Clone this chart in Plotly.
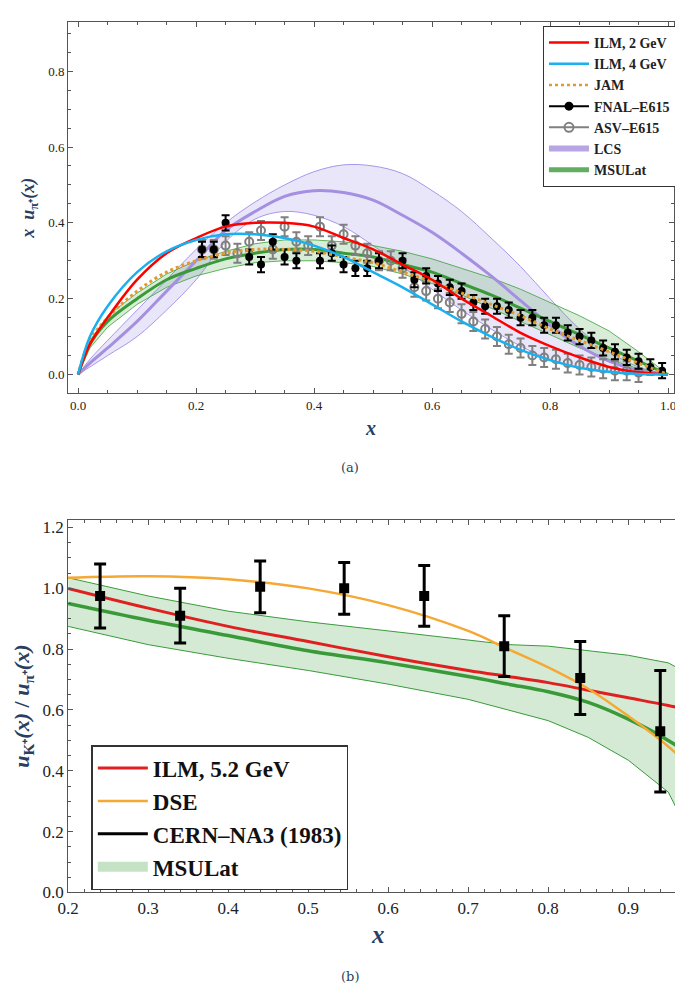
import plotly.graph_objects as go

# ---------- panel (a) data ----------
xc = [0.0, 0.02, 0.05, 0.1, 0.15, 0.2, 0.25, 0.3, 0.35, 0.4, 0.45, 0.5, 0.55, 0.6, 0.65, 0.7, 0.75, 0.8, 0.85, 0.9, 0.95, 1.0]
ilm2 = [0.0, 0.08, 0.15, 0.25, 0.32, 0.36, 0.39, 0.40, 0.40, 0.39, 0.36, 0.33, 0.29, 0.25, 0.20, 0.155, 0.11, 0.075, 0.045, 0.02, 0.006, 0.0]
ilm4 = [0.0, 0.10, 0.18, 0.27, 0.325, 0.355, 0.37, 0.37, 0.36, 0.34, 0.31, 0.27, 0.23, 0.185, 0.14, 0.10, 0.065, 0.038, 0.018, 0.007, 0.001, 0.0]
jam = [0.0, 0.09, 0.15, 0.22, 0.27, 0.30, 0.32, 0.33, 0.33, 0.325, 0.31, 0.295, 0.27, 0.245, 0.215, 0.185, 0.155, 0.12, 0.09, 0.06, 0.03, 0.0]
lcs_mid = [0.0, 0.03, 0.07, 0.14, 0.22, 0.30, 0.38, 0.43, 0.47, 0.485, 0.48, 0.46, 0.42, 0.375, 0.32, 0.26, 0.195, 0.13, 0.075, 0.035, 0.01, 0.0]
lcs_hi = [0.0, 0.04, 0.09, 0.17, 0.25, 0.33, 0.40, 0.455, 0.50, 0.535, 0.553, 0.55, 0.53, 0.485, 0.43, 0.36, 0.285, 0.20, 0.12, 0.06, 0.02, 0.0]
lcs_lo = [0.0, 0.02, 0.05, 0.10, 0.17, 0.25, 0.35, 0.41, 0.43, 0.42, 0.39, 0.34, 0.285, 0.225, 0.17, 0.12, 0.075, 0.04, 0.018, 0.006, 0.002, 0.0]
msu_mid = [0.0, 0.08, 0.14, 0.20, 0.25, 0.28, 0.305, 0.32, 0.33, 0.33, 0.32, 0.31, 0.29, 0.27, 0.24, 0.21, 0.175, 0.14, 0.105, 0.07, 0.035, 0.0]
msu_hi = [0.0, 0.09, 0.155, 0.215, 0.265, 0.30, 0.325, 0.345, 0.355, 0.355, 0.35, 0.34, 0.325, 0.305, 0.28, 0.255, 0.225, 0.19, 0.155, 0.115, 0.06, 0.0]
msu_lo = [0.0, 0.07, 0.125, 0.185, 0.23, 0.26, 0.28, 0.295, 0.30, 0.30, 0.295, 0.285, 0.265, 0.24, 0.21, 0.175, 0.14, 0.105, 0.07, 0.04, 0.015, 0.0]

fnal_x = [0.21, 0.23, 0.25, 0.29, 0.31, 0.33, 0.35, 0.37, 0.41, 0.43, 0.45, 0.47, 0.49, 0.51, 0.55, 0.57, 0.59, 0.61, 0.63, 0.65, 0.67, 0.69, 0.71, 0.73, 0.75, 0.77, 0.79, 0.81, 0.83, 0.85, 0.87, 0.89, 0.91, 0.93, 0.95, 0.97, 0.99]
fnal_y = [0.33, 0.33, 0.40, 0.31, 0.29, 0.35, 0.31, 0.30, 0.30, 0.32, 0.29, 0.28, 0.28, 0.30, 0.30, 0.25, 0.26, 0.24, 0.23, 0.22, 0.19, 0.18, 0.18, 0.17, 0.15, 0.15, 0.13, 0.13, 0.11, 0.10, 0.09, 0.07, 0.06, 0.045, 0.035, 0.02, 0.01]
fnal_e = [0.02] * len(fnal_x)
asv_x = [0.21, 0.23, 0.25, 0.27, 0.29, 0.31, 0.33, 0.35, 0.37, 0.39, 0.41, 0.43, 0.45, 0.47, 0.49, 0.51, 0.53, 0.55, 0.57, 0.59, 0.61, 0.63, 0.65, 0.67, 0.69, 0.71, 0.73, 0.75, 0.77, 0.79, 0.81, 0.83, 0.85, 0.87, 0.89, 0.91, 0.93, 0.95]
asv_y = [0.33, 0.33, 0.34, 0.32, 0.35, 0.38, 0.33, 0.39, 0.35, 0.34, 0.39, 0.34, 0.37, 0.34, 0.32, 0.30, 0.30, 0.28, 0.23, 0.22, 0.20, 0.19, 0.16, 0.14, 0.12, 0.10, 0.08, 0.07, 0.05, 0.045, 0.04, 0.03, 0.025, 0.02, 0.015, 0.01, 0.01, 0.005]
asv_e = [0.025] * len(asv_x)

# ---------- panel (b) data ----------
xb = [0.2, 0.3, 0.4, 0.5, 0.6, 0.7, 0.75, 0.8, 0.85, 0.9, 0.95, 0.975]
ilm52 = [1.0, 0.935, 0.875, 0.825, 0.775, 0.73, 0.71, 0.69, 0.665, 0.64, 0.615, 0.60]
dse = [1.035, 1.04, 1.03, 1.0, 0.945, 0.86, 0.80, 0.74, 0.67, 0.58, 0.48, 0.42]
msub_mid = [0.95, 0.895, 0.845, 0.795, 0.755, 0.71, 0.685, 0.66, 0.625, 0.57, 0.50, 0.455]
msub_hi = [1.035, 0.975, 0.925, 0.89, 0.86, 0.83, 0.815, 0.81, 0.795, 0.78, 0.755, 0.72]
msub_lo = [0.875, 0.815, 0.77, 0.73, 0.685, 0.635, 0.6, 0.565, 0.51, 0.435, 0.33, 0.20]
na3_x = [0.24, 0.34, 0.44, 0.545, 0.645, 0.745, 0.84, 0.94]
na3_y = [0.975, 0.91, 1.005, 1.0, 0.975, 0.81, 0.705, 0.53]
na3_e = [0.105, 0.09, 0.085, 0.085, 0.1, 0.1, 0.12, 0.2]

SERIF = "Liberation Serif"
fig = go.Figure()

def band(x, lo, hi, color, line, xa, ya, shape="spline"):
    fig.add_trace(go.Scatter(x=x, y=lo, mode="lines", line=dict(color=line, width=1, shape=shape),
                             xaxis=xa, yaxis=ya, showlegend=False, hoverinfo="skip"))
    fig.add_trace(go.Scatter(x=x, y=hi, mode="lines", fill="tonexty", fillcolor=color,
                             line=dict(color=line, width=1, shape=shape),
                             xaxis=xa, yaxis=ya, showlegend=False))

# panel a
band(xc, lcs_lo, lcs_hi, "rgba(160,140,230,0.22)", "rgba(160,140,230,0.9)", "x", "y")
band(xc, msu_lo, msu_hi, "rgba(60,160,60,0.2)", "rgba(60,160,60,0.8)", "x", "y", "linear")
fig.add_trace(go.Scatter(x=xc, y=lcs_mid, mode="lines", line=dict(color="#a58fe0", width=3, shape="spline"), xaxis="x", yaxis="y", showlegend=False))
fig.add_trace(go.Scatter(x=xc, y=msu_mid, mode="lines", line=dict(color="#3a9a3a", width=3, shape="spline"), xaxis="x", yaxis="y", showlegend=False))
fig.add_trace(go.Scatter(x=asv_x, y=asv_y, mode="markers",
                         marker=dict(symbol="circle-open", color="gray", size=8, line=dict(width=2)),
                         error_y=dict(array=asv_e, color="gray", thickness=2, width=4), xaxis="x", yaxis="y", showlegend=False))
fig.add_trace(go.Scatter(x=fnal_x, y=fnal_y, mode="markers",
                         marker=dict(color="black", size=8),
                         error_y=dict(array=fnal_e, color="black", thickness=2, width=4), xaxis="x", yaxis="y", showlegend=False))
fig.add_trace(go.Scatter(x=xc, y=jam, mode="lines", line=dict(color="#e09a30", width=3, dash="dot", shape="spline"), xaxis="x", yaxis="y", showlegend=False))
fig.add_trace(go.Scatter(x=xc, y=ilm2, mode="lines", line=dict(color="red", width=2.5, shape="spline"), xaxis="x", yaxis="y", showlegend=False))
fig.add_trace(go.Scatter(x=xc, y=ilm4, mode="lines", line=dict(color="#1ab0f0", width=2.5, shape="spline"), xaxis="x", yaxis="y", showlegend=False))

leg_a = [
    ("<b>ILM, 2 GeV</b>", dict(mode="lines", line=dict(color="red", width=2.5))),
    ("<b>ILM, 4 GeV</b>", dict(mode="lines", line=dict(color="#1ab0f0", width=2.5))),
    ("<b>JAM</b>", dict(mode="lines", line=dict(color="#e09a30", width=2.5, dash="dot"))),
    ("<b>FNAL–E615</b>", dict(mode="lines+markers", line=dict(color="black", width=2), marker=dict(color="black", size=9))),
    ("<b>ASV–E615</b>", dict(mode="lines+markers", line=dict(color="gray", width=2), marker=dict(symbol="circle-open", color="gray", size=9, line=dict(width=2)))),
    ("<b>LCS</b>", dict(mode="lines", line=dict(color="rgba(165,143,224,0.8)", width=6))),
    ("<b>MSULat</b>", dict(mode="lines", line=dict(color="rgba(58,154,58,0.8)", width=5))),
]
for nm, kw in leg_a:
    fig.add_trace(go.Scatter(x=[None], y=[None], name=nm, xaxis="x", yaxis="y", legend="legend", **kw))

# panel b
band(xb, msub_lo, msub_hi, "rgba(60,160,60,0.22)", "#3a9a3a", "x2", "y2", "linear")
fig.add_trace(go.Scatter(x=xb, y=msub_mid, mode="lines", line=dict(color="#3a9a3a", width=3.5, shape="spline"), xaxis="x2", yaxis="y2", showlegend=False))
fig.add_trace(go.Scatter(x=xb, y=ilm52, mode="lines", name="<b>ILM, 5.2 GeV</b>", line=dict(color="#e02020", width=3, shape="spline"), xaxis="x2", yaxis="y2", legend="legend2"))
fig.add_trace(go.Scatter(x=xb, y=dse, mode="lines", name="<b>DSE</b>", line=dict(color="#f5a833", width=2.5, shape="spline"), xaxis="x2", yaxis="y2", legend="legend2"))
fig.add_trace(go.Scatter(x=na3_x, y=na3_y, mode="markers",
                         marker=dict(symbol="square", color="black", size=10),
                         error_y=dict(array=na3_e, color="black", thickness=3, width=6), xaxis="x2", yaxis="y2", showlegend=False))
fig.add_trace(go.Scatter(x=[None], y=[None], mode="lines", name="<b>CERN–NA3 (1983)</b>", line=dict(color="black", width=3), xaxis="x2", yaxis="y2", legend="legend2"))
fig.add_trace(go.Scatter(x=[None], y=[None], mode="lines", name="<b>MSULat</b>", line=dict(color="rgba(60,160,60,0.3)", width=14), xaxis="x2", yaxis="y2", legend="legend2"))

ax = dict(showgrid=False, zeroline=False, showline=True, linecolor="#555", mirror="ticks", ticks="inside",
          ticklen=5, tickcolor="#555", automargin=False)
fig.update_layout(
    width=683, height=996, margin=dict(l=0, r=0, t=0, b=0),
    paper_bgcolor="white", plot_bgcolor="white",
    xaxis=dict(ax, domain=[0.088, 0.975], range=[-0.017, 1.01], tickvals=[0, 0.2, 0.4, 0.6, 0.8, 1.0],
               ticktext=["0.0", "0.2", "0.4", "0.6", "0.8", "1.0"], minor=dict(ticks="inside", ticklen=3, dtick=0.05, tickcolor="#555"),
               tickfont=dict(family=SERIF, size=13, color="#222"),
               title=dict(text="<b><i>x</i></b>", font=dict(family=SERIF, size=20), standoff=8)),
    yaxis=dict(ax, domain=[0.613, 0.986], range=[-0.05, 0.93], tickvals=[0, 0.2, 0.4, 0.6, 0.8],
               ticktext=["0.0", "0.2", "0.4", "0.6", "0.8"], minor=dict(ticks="inside", ticklen=3, dtick=0.05, tickcolor="#555"),
               tickfont=dict(family=SERIF, size=13, color="#222"),
               title=dict(text="<b><i>x  u</i><sub>π⁺</sub><i>(x)</i></b>", font=dict(family=SERIF, size=18), standoff=8)),
    xaxis2=dict(ax, anchor="y2", domain=[0.088, 0.996], range=[0.2, 0.975], tickvals=[0.2, 0.3, 0.4, 0.5, 0.6, 0.7, 0.8, 0.9],
                minor=dict(ticks="inside", ticklen=3, dtick=0.02, tickcolor="#555"), tickfont=dict(family=SERIF, size=17, color="#222"),
                title=dict(text="<b><i>x</i></b>", font=dict(family=SERIF, size=25), standoff=8)),
    yaxis2=dict(ax, anchor="x2", domain=[0.112, 0.486], range=[0, 1.225], tickvals=[0, 0.2, 0.4, 0.6, 0.8, 1.0, 1.2],
                ticktext=["0.0", "0.2", "0.4", "0.6", "0.8", "1.0", "1.2"], minor=dict(ticks="inside", ticklen=3, dtick=0.05, tickcolor="#555"),
                tickfont=dict(family=SERIF, size=17, color="#222"),
                title=dict(text="<b><i>u</i><sub>K⁺</sub><i>(x)</i> / <i>u</i><sub>π⁺</sub><i>(x)</i></b>", font=dict(family=SERIF, size=22), standoff=6)),
    legend=dict(x=0.978, y=0.982, xanchor="right", yanchor="top", bgcolor="white", bordercolor="#333", borderwidth=1,
                font=dict(family=SERIF, size=14, color="#222"), tracegroupgap=0, itemwidth=40, traceorder="normal"),
    legend2=dict(x=0.122, y=0.26, xanchor="left", yanchor="top", bgcolor="white", bordercolor="#333", borderwidth=1.5,
                 font=dict(family=SERIF, size=23, color="#111"), itemwidth=50, traceorder="normal"),
    annotations=[
        dict(text="(a)", x=0.5, y=1 - 460 / 996, xref="paper", yref="paper", showarrow=False, font=dict(family="DejaVu Serif", size=13)),
        dict(text="(b)", x=0.5, y=1 - 978 / 996, xref="paper", yref="paper", showarrow=False, font=dict(family="DejaVu Serif", size=13)),
    ],
)
fig.write_html("out.html")
